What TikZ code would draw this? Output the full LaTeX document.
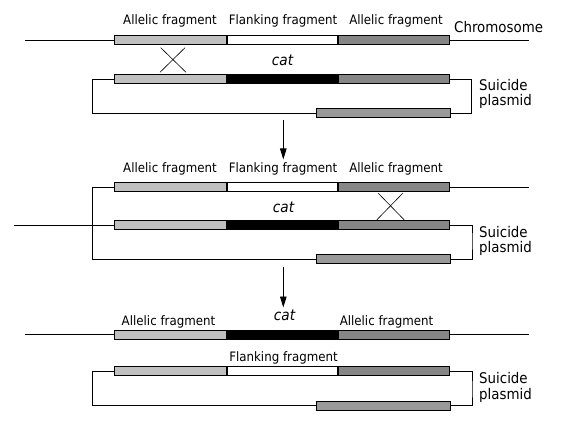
\documentclass[tikz,border=0pt]{standalone}
\usepackage{fontspec}
\setmainfont{DejaVu Sans}[FakeStretch=0.91]
\usetikzlibrary{arrows.meta}
\definecolor{lightbar}{HTML}{C0C0C0}
\definecolor{darkbar}{HTML}{868686}
\definecolor{midbar}{HTML}{999999}
\begin{document}
\begin{tikzpicture}[x=1pt,y=-1pt,
  bar/.style={draw=black, line width=1pt, minimum height=9pt, inner sep=0pt, outer sep=0pt},
  lseg/.style={bar, fill=lightbar, minimum width=111.2pt},
  fseg/.style={bar, fill=white, minimum width=110.2pt},
  cseg/.style={bar, fill=black, minimum width=110.2pt},
  dseg/.style={bar, fill=darkbar, minimum width=110.8pt},
  pseg/.style={bar, fill=midbar, minimum width=133.4pt},
  ln/.style={line width=0.9pt},
  xl/.style={line width=0.6pt},
  lab/.style={font=\fontsize{13}{15}\selectfont, anchor=base, inner sep=0pt},
  side/.style={font=\fontsize{14.7}{16}\selectfont, anchor=base west, inner sep=0pt},
  catl/.style={font=\fontsize{15}{16}\selectfont\itshape, anchor=base, inner sep=0pt},
  arr/.style={line width=0.9pt, -{Triangle[length=11pt,width=6.5pt]}}]
\useasboundingbox (0,0) rectangle (564,427);

% ================= Panel 1 =================
\node[lab] (t1a) at (170,25) {Allelic fragment};
\node[lab] (t1b) at (283,25) {Flanking fragment};
\node[lab] (t1c) at (396,25) {Allelic fragment};
\node[side] (t1chr) at (454,32.3) {Chromosome};
% chromosome bar
\node[lseg] (a1L) at (170.4,40.5) {};
\node[fseg] (a1F) at (282.1,40.5) {};
\node[dseg] (a1D) at (393.6,40.5) {};
\coordinate (c1l) at (25,40.5);
\coordinate (c1r) at (529,40.5);
\draw[ln] (c1l) -- (a1L.west);
\draw[ln] (a1D.east) -- (c1r);
% cross
\coordinate (x1a) at (160.7,47.7);
\coordinate (x1b) at (186,72.3);
\coordinate (x1c) at (185,47.7);
\coordinate (x1d) at (160,72.3);
\draw[xl] (x1a) -- (x1b);
\draw[xl] (x1c) -- (x1d);
\node[catl] (cat1) at (282.5,66) {cat};
% plasmid
\node[lseg] (p1L) at (170.4,79.3) {};
\node[cseg] (p1C) at (282.1,79.3) {};
\node[dseg] (p1D) at (393.6,79.3) {};
\node[pseg] (pb1) at (383.5,113.3) {};
\coordinate (bl1) at (92.3,95);
\coordinate (br1) at (471.5,95);
\draw[ln] (p1L.west) -| (bl1) |- (pb1.west);
\draw[ln] (p1D.east) -| (br1) |- (pb1.east);
\node[side] (s1a) at (479,90.3) {Suicide};
\node[side] (s1b) at (479,106) {plasmid};
% arrow
\coordinate (ar1s) at (283.3,120);
\coordinate (ar1e) at (283.3,159.5);
\draw[arr] (ar1s) -- (ar1e);

% ================= Panel 2 =================
\node[lab] (t2a) at (170,173) {Allelic fragment};
\node[lab] (t2b) at (283,173) {Flanking fragment};
\node[lab] (t2c) at (396,173) {Allelic fragment};
\node[lseg] (q2L) at (170.4,187.3) {};
\node[fseg] (q2F) at (282.1,187.3) {};
\node[dseg] (q2D) at (393.6,187.3) {};
\coordinate (c2r) at (528.5,187.3);
\draw[ln] (q2D.east) -- (c2r);
\node[catl] (cat2) at (283.5,212.5) {cat};
\node[lseg] (m2L) at (170.4,225) {};
\node[cseg] (m2C) at (282.1,225) {};
\node[dseg] (m2D) at (393.6,225) {};
\coordinate (c2l) at (14,225);
\draw[ln] (c2l) -- (m2L.west);
% cross
\coordinate (x2a) at (378.3,193.3);
\coordinate (x2b) at (404.3,220);
\coordinate (x2c) at (402.7,193.3);
\coordinate (x2d) at (376.7,220);
\draw[xl] (x2a) -- (x2b);
\draw[xl] (x2c) -- (x2d);
\node[pseg] (pb2) at (383.5,259.2) {};
\coordinate (bl2) at (92.3,220);
\coordinate (br2) at (472,240);
\draw[ln] (q2L.west) -| (bl2) |- (pb2.west);
\draw[ln] (m2D.east) -| (br2) |- (pb2.east);
\node[side] (s2a) at (479,237.3) {Suicide};
\node[side] (s2b) at (479,253) {plasmid};
\coordinate (ar2s) at (283.3,267);
\coordinate (ar2e) at (283.3,307.5);
\draw[arr] (ar2s) -- (ar2e);

% ================= Panel 3 =================
\node[lab] (t3a) at (168.5,325) {Allelic fragment};
\node[lab] (t3c) at (386.5,325) {Allelic fragment};
\node[catl] (cat3) at (284.5,320) {cat};
\node[lseg] (a3L) at (170.4,334.7) {};
\node[cseg] (a3C) at (282.1,334.7) {};
\node[dseg] (a3D) at (393.6,334.7) {};
\coordinate (c3l) at (25,334.7);
\coordinate (c3r) at (528.5,334.7);
\draw[ln] (c3l) -- (a3L.west);
\draw[ln] (a3D.east) -- (c3r);
\node[lab] (t3b) at (283.5,361.7) {Flanking fragment};
\node[lseg] (p3L) at (170.4,371.3) {};
\node[fseg] (p3F) at (282.1,371.3) {};
\node[dseg] (p3D) at (393.6,371.3) {};
\node[pseg] (pb3) at (383.5,405.9) {};
\coordinate (bl3) at (92.3,390);
\coordinate (br3) at (472,390);
\draw[ln] (p3L.west) -| (bl3) |- (pb3.west);
\draw[ln] (p3D.east) -| (br3) |- (pb3.east);
\node[side] (s3a) at (479,383.8) {Suicide};
\node[side] (s3b) at (479,399.5) {plasmid};
\end{tikzpicture}
\end{document}
